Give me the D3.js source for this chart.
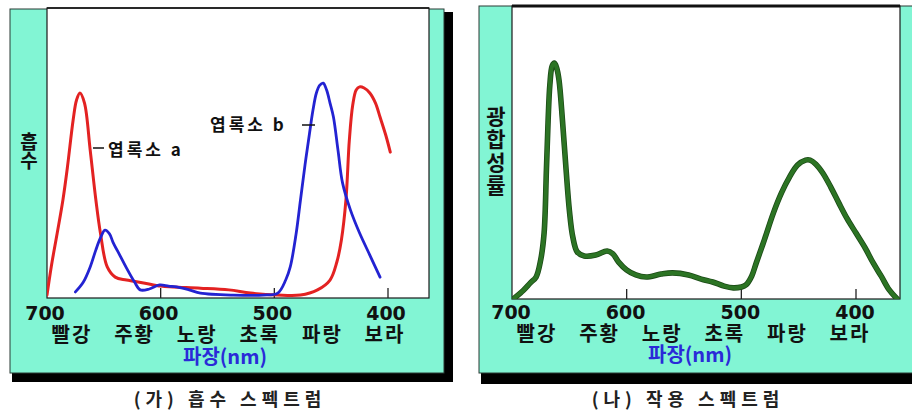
<!DOCTYPE html>
<html>
<head>
<meta charset="utf-8">
<script src="https://cdn.jsdelivr.net/npm/d3@7.9.0/dist/d3.min.js"></script>
<style>
  html, body { margin: 0; padding: 0; background: #fff; }
  svg { display: block; }
  .kr { font-family: "Noto Sans CJK KR", sans-serif; font-weight: 700; }
  .num { font-family: "DejaVu Sans", sans-serif; font-weight: 700; }
  .vert { writing-mode: vertical-rl; text-orientation: upright; }
</style>
</head>
<body>
<svg id="chart" width="912" height="416"></svg>
<script>
// wavelength (nm) and absorbance / rate, 0-100 of the plot height
const chlA_nm  = [700, 696, 691, 686, 682, 677, 674, 671, 667, 662, 657, 653, 647, 640, 630, 615, 600, 589, 565, 540, 521, 497, 477, 462, 451, 445, 441, 437, 434, 431, 428, 425, 421, 416, 411, 407, 402, 398];
const chlA_val = [1.0, 11.4, 22.4, 33.8, 45.2, 61.4, 68.3, 70.7, 67.2, 51.0, 33.8, 22.4, 10.7, 7.2, 6.2, 5.2, 4.1, 3.8, 3.4, 2.8, 1.7, 1.0, 1.0, 2.8, 6.2, 12.4, 20.0, 33.8, 54.5, 66.6, 71.7, 72.8, 72.4, 70.7, 67.2, 62.4, 56.2, 50.3];

const chlB_nm  = [675, 668, 662, 657, 653, 649, 645, 642, 636, 630, 623, 618, 610, 601, 593, 586, 575, 565, 536, 510, 497, 490, 486, 481, 477, 473, 469, 466, 463, 460, 457, 454, 451, 448, 444, 440, 433, 425, 416, 407];
const chlB_val = [2.1, 5.5, 10.7, 16.6, 20.7, 23.4, 22.1, 19.3, 14.8, 10.3, 5.5, 2.8, 3.1, 4.5, 4.1, 3.8, 2.8, 1.7, 1.0, 1.0, 1.7, 6.2, 10.7, 21.7, 33.8, 45.9, 56.9, 64.8, 70.7, 73.4, 74.1, 71.7, 67.2, 62.4, 51.0, 39.7, 30.3, 22.4, 14.8, 7.2];

const action_nm  = [698, 690, 684, 679, 675, 672, 670, 668.5, 667, 665, 663, 661, 659, 656, 653, 650, 647, 643, 637, 627, 617, 612, 607, 600, 592, 583, 570, 560, 546, 535, 525, 515, 507, 500, 496, 491, 487, 480, 472, 465, 458, 451, 444, 440, 435, 429, 422, 415, 408, 400, 392, 385, 378, 371, 364];
const action_val = [0.3, 3.0, 5.5, 7.5, 13.3, 22.5, 44.0, 61.0, 73.0, 79.5, 80.5, 78.8, 74.7, 61.0, 45.0, 30.4, 21.2, 16.0, 14.7, 15.0, 16.4, 15.4, 12.6, 9.9, 8.2, 7.5, 8.5, 8.9, 8.2, 6.8, 5.8, 4.4, 3.8, 4.1, 4.8, 7.8, 12.3, 20.1, 29.4, 36.2, 41.6, 45.7, 47.4, 47.4, 46.0, 43.0, 38.2, 32.8, 27.6, 22.5, 17.4, 12.3, 7.8, 3.1, 0];

const tickValues = [700, 600, 500, 400];
const colorNames = ['빨강', '주황', '노랑', '초록', '파랑', '보라'];

const teal = '#82f5d4';
const svg = d3.select('#chart');

function drawPanel(p) {
  const g = svg.append('g');

  // black shadow + teal frame
  if (p.shadowRight) {
    g.append('rect').attr('x', p.frame[2]).attr('y', p.frame[1] + 3)
      .attr('width', 9).attr('height', p.frame[3] - p.frame[1] + 6).attr('fill', '#000');
  }
  g.append('rect').attr('x', p.frame[0] + 2).attr('y', p.frame[3])
    .attr('width', p.frame[2] - p.frame[0] + (p.shadowRight ? 7 : 10)).attr('height', p.shadowH).attr('fill', '#000');
  g.append('rect').attr('x', p.frame[0]).attr('y', p.frame[1])
    .attr('width', p.frame[2] - p.frame[0]).attr('height', p.frame[3] - p.frame[1])
    .attr('fill', teal).attr('stroke', '#2a3a35').attr('stroke-width', 1);

  // plot area
  const [x0, y0, x1, y1] = p.plot;
  g.append('rect').attr('x', x0).attr('y', y0).attr('width', x1 - x0).attr('height', y1 - y0)
    .attr('fill', '#fff').attr('stroke', '#1a1a1a').attr('stroke-width', 1.2);
  g.append('line').attr('x1', x0).attr('x2', x1).attr('y1', y0).attr('y2', y0)
    .attr('stroke', '#111').attr('stroke-width', p.topW);

  const x = d3.scaleLinear().domain([700, 400]).range(p.xRange);
  const y = d3.scaleLinear().domain([0, 100]).range([y1, y0]);

  // ticks pointing up into the plot
  g.selectAll('.tk').data(tickValues.slice(1)).join('line')
    .attr('x1', d => x(d)).attr('x2', d => x(d))
    .attr('y1', y1).attr('y2', y1 - 10)
    .attr('stroke', '#222').attr('stroke-width', 1.3);

  g.selectAll('.tl').data(tickValues).join('text')
    .attr('class', 'num')
    .attr('x', d => x(d) + p.tickDx).attr('y', p.tickY)
    .attr('text-anchor', 'middle').attr('font-size', 19).attr('fill', '#111')
    .text(d => d);

  const band = d3.scalePoint().domain(colorNames).range(p.bandRange);
  g.selectAll('.cn').data(colorNames).join('text')
    .attr('class', 'kr')
    .attr('x', d => band(d)).attr('y', p.colorY)
    .attr('text-anchor', 'middle').attr('font-size', 20).attr('letter-spacing', 2)
    .attr('fill', '#111')
    .text(d => d);

  g.append('text').attr('class', 'kr')
    .attr('x', p.xLabelX).attr('y', p.xLabelY)
    .attr('text-anchor', 'middle').attr('font-size', 20).attr('fill', '#2a2ad8')
    .text('파장(nm)');

  // vertical y label, one glyph under the other
  g.append('text').attr('class', 'kr vert')
    .attr('x', p.yLabelX).attr('y', p.yLabelY)
    .attr('font-size', p.yFont).attr('letter-spacing', p.yGap).attr('fill', '#111')
    .text(p.yLabel);

  // curves
  const clipId = 'clip' + p.id;
  g.append('clipPath').attr('id', clipId).append('rect')
    .attr('x', x0).attr('y', y0 - 10).attr('width', x1 - x0).attr('height', y1 - y0 + 10);
  const line = d3.line().x(d => x(d[0])).y(d => y(d[1])).curve(d3.curveCatmullRom.alpha(0.5));
  const cg = g.append('g').attr('clip-path', `url(#${clipId})`);
  p.series.forEach(s => {
    const pts = d3.zip(s.nm, s.val);
    if (s.outline) {
      cg.append('path').attr('d', line(pts)).attr('fill', 'none')
        .attr('stroke', s.outline).attr('stroke-width', s.width + 1.6)
        .attr('stroke-linejoin', 'round').attr('stroke-linecap', 'round');
    }
    cg.append('path').attr('d', line(pts)).attr('fill', 'none')
      .attr('stroke', s.color).attr('stroke-width', s.width)
      .attr('stroke-linejoin', 'round').attr('stroke-linecap', 'round');
  });

  g.append('text').attr('class', 'kr')
    .attr('x', p.captionX).attr('y', 406)
    .attr('text-anchor', 'middle').attr('font-size', 18).attr('font-weight', 400)
    .attr('fill', '#222').attr('letter-spacing', 5)
    .text(p.caption);

  return { g, x, y };
}

const left = drawPanel({
  id: 'a',
  frame: [10, 9, 444, 373], shadowRight: true, shadowH: 9,
  plot: [47, 8, 429, 298], topW: 1.5,
  xRange: [47, 388], tickDx: -2, tickY: 320,
  bandRange: [72, 385], colorY: 342,
  xLabelX: 225, xLabelY: 364,
  yLabel: '흡수', yLabelX: 29, yLabelY: 132, yGap: 0, yFont: 19,
  series: [
    { nm: chlA_nm, val: chlA_val, color: '#e32222', width: 3 },
    { nm: chlB_nm, val: chlB_val, color: '#2323d2', width: 2.8 }
  ],
  caption: '(가) 흡수 스펙트럼', captionX: 230
});

// curve annotations
left.g.append('line').attr('x1', 93).attr('x2', 104).attr('y1', 148).attr('y2', 148)
  .attr('stroke', '#111').attr('stroke-width', 1.5);
left.g.append('text').attr('class', 'kr').attr('x', 108).attr('y', 156)
  .attr('font-size', 17).attr('letter-spacing', 3).attr('fill', '#111')
  .text('엽록소 a');
left.g.append('text').attr('class', 'kr').attr('x', 210).attr('y', 131)
  .attr('font-size', 17).attr('letter-spacing', 3).attr('fill', '#111')
  .text('엽록소 b');
left.g.append('line').attr('x1', 302).attr('x2', 315).attr('y1', 125).attr('y2', 125)
  .attr('stroke', '#111').attr('stroke-width', 1.5);

drawPanel({
  id: 'b',
  frame: [479, 6, 918, 373], shadowRight: false, shadowH: 11,
  plot: [512, 6, 900, 299], topW: 3,
  xRange: [512, 856], tickDx: -1, tickY: 319,
  bandRange: [537, 850], colorY: 341,
  xLabelX: 690, xLabelY: 362,
  yLabel: '광합성률', yLabelX: 496, yLabelY: 106, yGap: 2, yFont: 21,
  series: [
    { nm: action_nm, val: action_val, color: '#2c7424', width: 4, outline: '#1b4a16' }
  ],
  caption: '(나) 작용 스펙트럼', captionX: 688
});
</script>
</body>
</html>
